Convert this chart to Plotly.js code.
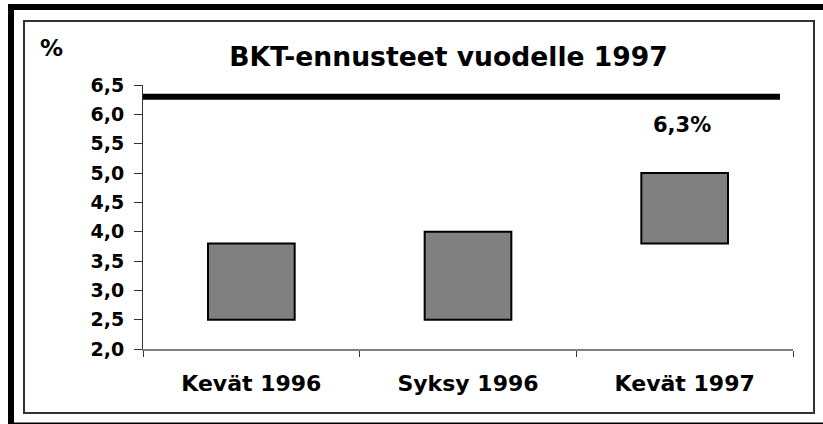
<!DOCTYPE html>
<html>
<head>
<meta charset="utf-8">
<script src="https://cdn.plot.ly/plotly-3.0.1.min.js"></script>
<style>
html,body{margin:0;padding:0;background:#fff;}
#chart{width:823px;height:424px;}
</style>
</head>
<body>
<div id="chart"></div>
<script>
// ---- data ----
const categories = ["Kevät 1996", "Syksy 1996", "Kevät 1997"];
const forecastLow = [2.5, 2.5, 3.8];
const forecastHigh = [3.8, 4.0, 5.0];
const actualValue = 6.3;
const actualLabel = "6,3%";
const yTickVals = [2.0, 2.5, 3.0, 3.5, 4.0, 4.5, 5.0, 5.5, 6.0, 6.5];
const titleText = "BKT-ennusteet vuodelle 1997";
const unitLabel = "%";

// ---- layout helpers ----
const W = 823, H = 424;
const M = {l: 143, r: 30, t: 85, b: 75};
const PW = W - M.l - M.r, PH = H - M.t - M.b;
const px = x => (x - M.l) / PW;
const py = y => (H - M.b - y) / PH;
const FONT = "DejaVu Sans, Arial, sans-serif";

const spans = forecastHigh.map((h, i) => h - forecastLow[i]);

const traces = [{
  type: "bar",
  x: categories,
  y: spans,
  base: forecastLow,
  width: 0.4,
  marker: {color: "#808080", line: {color: "#000", width: 2}},
  hoverinfo: "skip"
}];

const shapes = [
  // outer black frame (cropped)
  {type: "rect", xref: "paper", yref: "paper", x0: px(8), x1: px(14), y0: py(424), y1: py(4), fillcolor: "#000", line: {width: 0}, layer: "above"},
  {type: "rect", xref: "paper", yref: "paper", x0: px(8), x1: px(823), y0: py(10), y1: py(4), fillcolor: "#000", line: {width: 0}, layer: "above"},
  {type: "rect", xref: "paper", yref: "paper", x0: px(8), x1: px(823), y0: py(424), y1: py(422.5), fillcolor: "#000", line: {width: 0}, layer: "above"},
  // inner thin frame
  {type: "rect", xref: "paper", yref: "paper", x0: px(24), x1: px(814), y0: py(413), y1: py(21), line: {color: "#333", width: 2}, fillcolor: "rgba(0,0,0,0)"},
  // actual value line
  {type: "line", xref: "paper", yref: "y", x0: 0, x1: px(780), y0: actualValue, y1: actualValue, line: {color: "#000", width: 6}}
];

const layout = {
  width: W, height: H,
  margin: M,
  paper_bgcolor: "#fff",
  plot_bgcolor: "#fff",
  showlegend: false,
  separators: ", ",
  font: {family: FONT, color: "#000"},
  title: {
    text: "<b>" + titleText + "</b>",
    font: {family: FONT, size: 26.6, color: "#000"},
    xref: "container", yref: "container",
    x: 448.5 / W, xanchor: "center",
    y: 1 - 57 / H, yanchor: "middle"
  },
  xaxis: {
    type: "category",
    range: [-0.5, 2.5],
    showgrid: false, zeroline: false,
    showline: true, linecolor: "#808080", linewidth: 2,
    ticks: "outside", ticklen: 6, tickwidth: 1, tickcolor: "#333",
    tickson: "boundaries",
    ticklabelstandoff: 14,
    tickfont: {family: FONT, size: 22, color: "#000", weight: "bold"},
    fixedrange: true
  },
  yaxis: {
    range: [2, 6.5],
    tickvals: yTickVals,
    tickformat: ".1f",
    showgrid: false, zeroline: false,
    showline: true, linecolor: "#333", linewidth: 1,
    ticks: "outside", ticklen: 8, tickwidth: 1, tickcolor: "#333",
    ticklabelstandoff: 6,
    tickfont: {family: FONT, size: 19, color: "#000", weight: "bold"},
    fixedrange: true
  },
  shapes: shapes,
  annotations: [
    {
      x: categories[2], y: actualValue, xref: "x", yref: "y",
      text: "<b>" + actualLabel + "</b>", showarrow: false,
      xanchor: "center", yanchor: "top", yshift: -14, xshift: -3,
      font: {family: FONT, size: 21, color: "#000"}
    },
    {
      x: px(51), y: py(48), xref: "paper", yref: "paper",
      text: "<b>" + unitLabel + "</b>", showarrow: false,
      xanchor: "center", yanchor: "middle",
      font: {family: FONT, size: 23, color: "#000"}
    }
  ]
};

Plotly.newPlot("chart", traces, layout, {displayModeBar: false, staticPlot: true});
</script>
</body>
</html>
